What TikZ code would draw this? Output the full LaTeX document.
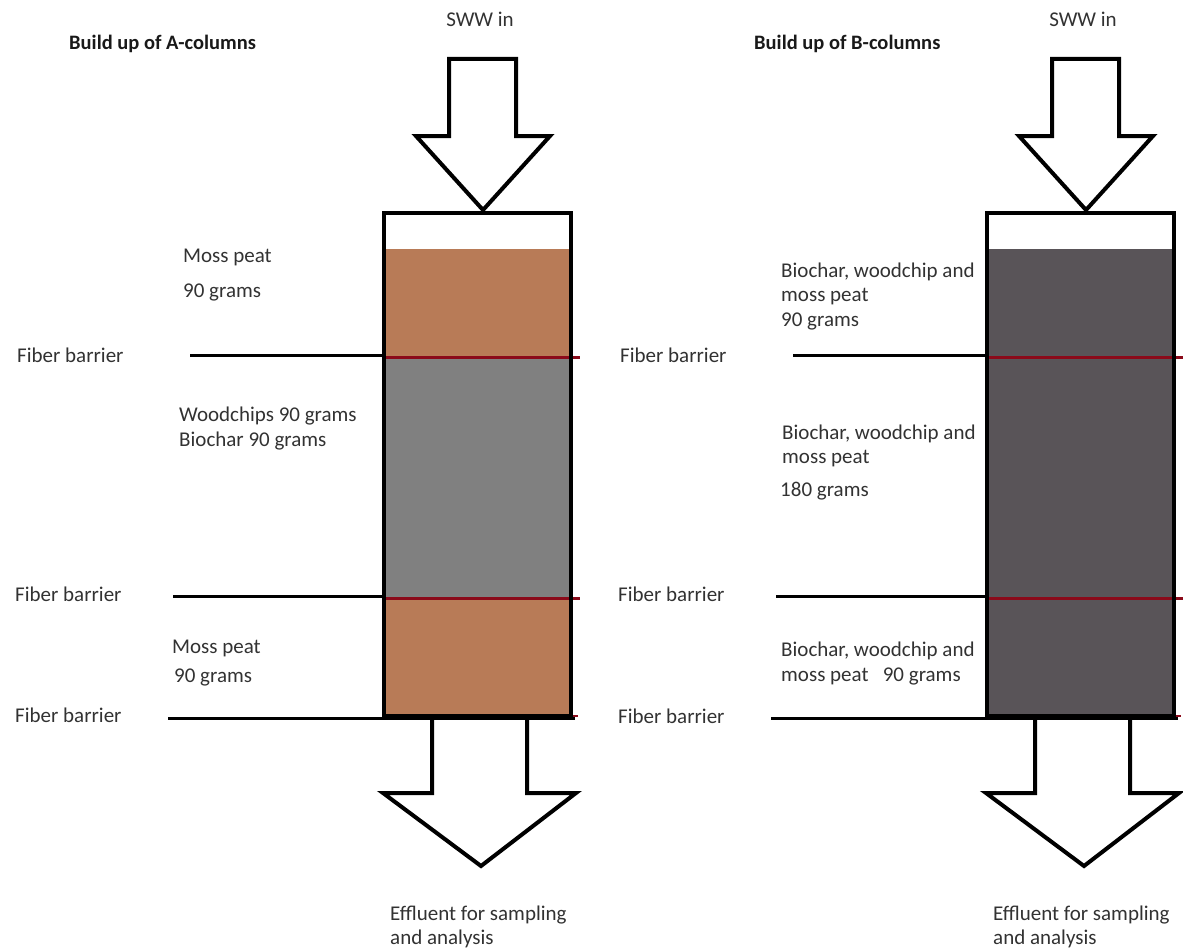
\documentclass[tikz,border=0pt]{standalone}
\usepackage{fontspec}
\setmainfont{Carlito}
\usetikzlibrary{positioning}

\definecolor{peat}{RGB}{184,123,87}
\definecolor{chips}{RGB}{128,128,128}
\definecolor{mixbed}{RGB}{89,84,88}
\definecolor{barrier}{RGB}{139,10,26}
\definecolor{txt}{RGB}{50,50,50}

\begin{document}
\begin{tikzpicture}[
		x=1pt,y=-1pt,
		lbl/.style={anchor=west,inner sep=0pt,text=txt,font=\fontsize{21}{25}\selectfont},
		ttl/.style={lbl,font=\fontsize{20.5}{24}\selectfont\bfseries,text=black!90},
		outline/.style={line width=4pt,line join=miter},
		redline/.style={draw=barrier,line width=3pt},
		pics/column/.style 2 args={code={
			\coordinate (-in) at (483,210);
			\coordinate (-out) at (481,866);
			\coordinate (-f1) at (190,355);
			\coordinate (-f2) at (173,596);
			\coordinate (-f3) at (168,718);
			% layers
			\fill [#1] (384,249) rectangle (571,357);
			\fill [#2] (384,357) rectangle (571,597);
			\fill [#1] (384,597) rectangle (571,717);
			\draw [redline] (384,357) -- (580,357);
			\draw [redline] (384,598) -- (580,598);
			\draw [draw=barrier,line width=2pt] (384,716) -- (578,716);
			\draw [outline] (384,249) -- (384,213) -- (571,213) -- (571,716) -- (384,716) -- cycle;
			% fiber barriers
			\draw [line width=3pt] (-f1) -- (384,355);
			\draw [line width=3pt] (-f2) -- (384,596);
			\draw [line width=3pt] (-f3) -- (575,718);
			% arrows
			\draw [outline,fill=white] (449,59) -- (516,59) -- (516,136) -- (550,136) -- (-in) -- (416,136) -- (449,136) -- cycle;
			\fill [white] (432,720) -- (432,793) -- (383,793) -- (-out) -- (576,793) -- (527,793) -- (527,720) -- cycle;
			\draw [outline] (432,719) -- (432,793) -- (383,793) -- (-out) -- (576,793) -- (527,793) -- (527,719);
		}}
	]
	\useasboundingbox (0,0) rectangle (1183,950);

	\pic (colA) at (0,0) {column={peat}{chips}};
	\pic (colB) at (603,0) {column={mixbed}{mixbed}};

	% A-columns
	\node [ttl] (titleA) at (69,44) {Build up of A-columns};
	\node [lbl,anchor=center] (inA) at (480,19) {SWW in};
	\node [lbl] (peat1) at (183,257) {Moss peat};
	\node [lbl] (peat1g) at (183,292) {90 grams};
	\node [lbl] (fibA1) at (17,355) {Fiber barrier};
	\node [lbl] (chipsA) at (179,416) {Woodchips 90 grams};
	\node [lbl] (charA) at (179,441) {Biochar 90 grams};
	\node [lbl] (fibA2) at (15,594) {Fiber barrier};
	\node [lbl] (peat2) at (172,648) {Moss peat};
	\node [lbl] (peat2g) at (174,677) {90 grams};
	\node [lbl] (fibA3) at (15,715) {Fiber barrier};
	\node [lbl] (effA) at (390,915) {Effluent for sampling};
	\node [lbl] (effA2) at (390,939) {and analysis};

	% B-columns
	\node [ttl] (titleB) at (754,44) {Build up of B-columns};
	\node [lbl,anchor=center] (inB) at (1083,19) {SWW in};
	\node [lbl] (mixB1) at (781,272) {Biochar, woodchip and};
	\node [lbl] (mixB1a) at (781,297) {moss peat};
	\node [lbl] (mixB1g) at (781,321) {90 grams};
	\node [lbl] (fibB1) at (620,355) {Fiber barrier};
	\node [lbl] (mixB2) at (782,434) {Biochar, woodchip and};
	\node [lbl] (mixB2a) at (782,459) {moss peat};
	\node [lbl] (mixB2g) at (780,491) {180 grams};
	\node [lbl] (fibB2) at (618,594) {Fiber barrier};
	\node [lbl] (mixB3) at (781,651) {Biochar, woodchip and};
	\node [lbl] (mixB3a) at (781,676) {moss peat\ \ \ 90 grams};
	\node [lbl] (fibB3) at (618,716) {Fiber barrier};
	\node [lbl] (effB) at (993,915) {Effluent for sampling};
	\node [lbl] (effB2) at (993,939) {and analysis};
\end{tikzpicture}
\end{document}
